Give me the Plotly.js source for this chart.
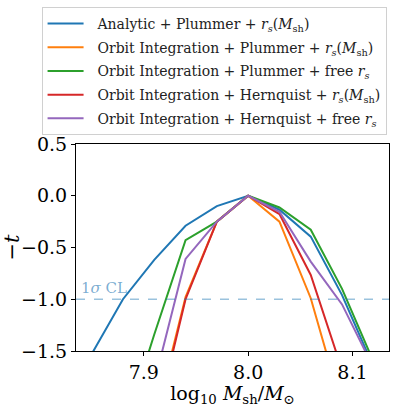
<!DOCTYPE html>
<html>
<head>
<meta charset="utf-8">
<script src="https://cdn.plot.ly/plotly-3.0.1.min.js"></script>
<style>
  body { margin: 0; background: #fff; }
  #plt1 { width: 396px; height: 407px; }
</style>
</head>
<body>
<div id="plt1"></div>
<script>
// log10 Msh grid
var logMsh = [7.85, 7.88, 7.91, 7.94, 7.97, 8.00, 8.03, 8.06, 8.09, 8.12];

// -t for each model (points below -1.5 are off the plot)
var analyticPlummer = [-1.53, -1.00, -0.62, -0.29, -0.10, 0, -0.135, -0.395, -0.96, -1.65];
var orbitPlummer = [-4.9, -3.5, -2.20, -0.98, -0.25, 0, -0.25, -0.99, -1.98, -3.1];
var orbitPlummerFree = [-3.4, -2.3, -1.34, -0.43, -0.25, 0, -0.113, -0.328, -0.90, -1.60];
var orbitHernquist = [-5.0, -3.6, -2.26, -1.00, -0.25, 0, -0.177, -0.765, -1.62, -2.6];
var orbitHernquistFree = [-4.2, -3.0, -1.82, -0.61, -0.25, 0, -0.155, -0.636, -1.05, -1.66];

var seriesNames = [
    'Analytic + Plummer + <i>r</i><sub><i>s</i></sub>(<i>M</i><sub>sh</sub>)',
    'Orbit Integration + Plummer + <i>r</i><sub><i>s</i></sub>(<i>M</i><sub>sh</sub>)',
    'Orbit Integration + Plummer + free <i>r</i><sub><i>s</i></sub>',
    'Orbit Integration + Hernquist + <i>r</i><sub><i>s</i></sub>(<i>M</i><sub>sh</sub>)',
    'Orbit Integration + Hernquist + free <i>r</i><sub><i>s</i></sub>'
];
var seriesValues = [analyticPlummer, orbitPlummer, orbitPlummerFree, orbitHernquist, orbitHernquistFree];
var colors = ['#1f77b4', '#ff7f0e', '#2ca02c', '#d62728', '#9467bd'];

var clLevel = -1.0;
var font = 'DejaVu Serif';

var data = seriesValues.map(function (ys, i) {
    return {
        x: logMsh, y: ys, type: 'scatter', mode: 'lines', name: '  ' + seriesNames[i],
        legendgroup: 'g' + i,
        line: {color: colors[i], width: 2}
    };
});

var layout = {
    width: 396, height: 407,
    margin: {l: 76, r: 7, t: 144, b: 56},
    paper_bgcolor: '#fff', plot_bgcolor: '#fff',
    font: {family: font, color: '#000'},
    showlegend: true,
    legend: {
        x: -0.11, y: 1.662, xanchor: 'left', yanchor: 'top',
        bgcolor: '#fff', bordercolor: '#d0d0d0', borderwidth: 1,
        font: {family: font, size: 14, color: '#222'},
        traceorder: 'grouped', tracegroupgap: 2.5, itemwidth: 36
    },
    xaxis: {
        range: [7.835, 8.135],
        tickvals: [7.9, 8.0, 8.1], tickformat: '.1f',
        ticks: 'outside', ticklen: 4, tickcolor: '#000',
        showgrid: false, zeroline: false,
        showline: true, mirror: true, linecolor: '#000', linewidth: 1,
        tickfont: {size: 19},
        title: {text: 'log<sub>10</sub> <i>M</i><sub>sh</sub>/<i>M</i><sub>⊙</sub>', font: {size: 19}, standoff: 4}
    },
    yaxis: {
        range: [-1.5, 0.5],
        tickvals: [-1.5, -1.0, -0.5, 0.0, 0.5], tickformat: '.1f',
        ticks: 'outside', ticklen: 4, tickcolor: '#000',
        showgrid: false, zeroline: false,
        showline: true, mirror: true, linecolor: '#000', linewidth: 1,
        tickfont: {size: 19},
        title: {text: '−<i>t</i>', font: {size: 21}, standoff: 8}
    },
    shapes: [{
        type: 'line', xref: 'paper', x0: 0, x1: 1, yref: 'y', y0: clLevel, y1: clLevel,
        line: {color: 'rgba(31,119,180,0.45)', width: 1.5, dash: 'dash'}
    }],
    annotations: [{
        xref: 'paper', x: 0.01, yref: 'y', y: clLevel,
        xanchor: 'left', yanchor: 'bottom', showarrow: false,
        text: '1<i>σ</i> CL',
        font: {family: font, size: 15, color: 'rgba(31,119,180,0.6)'}
    }]
};

Plotly.newPlot('plt1', data, layout, {displayModeBar: false, staticPlot: true});
</script>
</body>
</html>
